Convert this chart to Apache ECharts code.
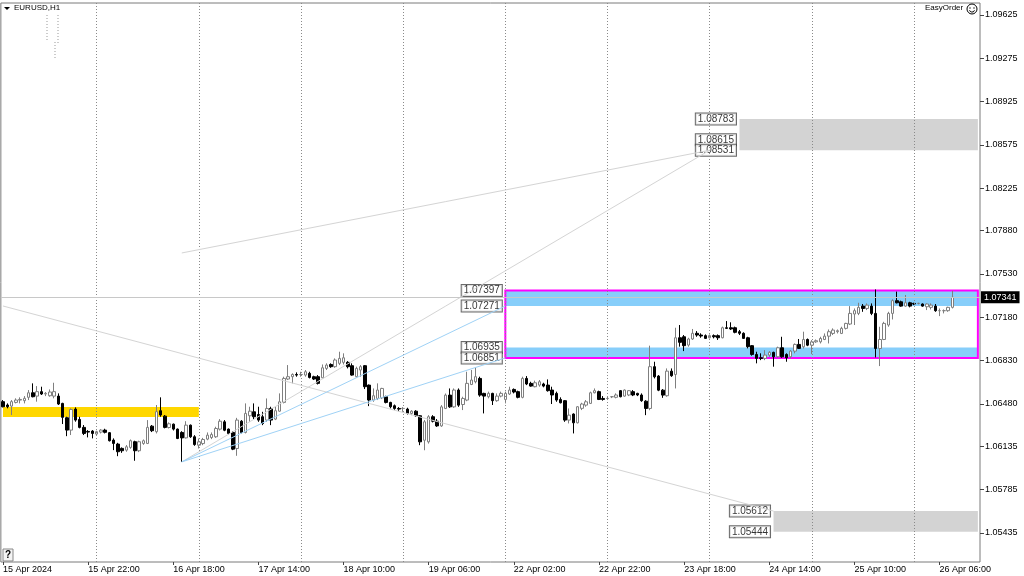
<!DOCTYPE html>
<html>
<head>
<meta charset="utf-8">
<script src="https://cdn.jsdelivr.net/npm/echarts@6/dist/echarts.min.js"></script>
<style>
html, body { margin: 0; padding: 0; background: #fff; }
#chart { width: 1024px; height: 576px; }
</style>
</head>
<body>
<div id="chart"></div>
<script>
// EURUSD H1, 15 Apr 02:00 .. 26 Apr 09:00 (224 bars)
var open = [
  1.06497,1.06470,1.06461,1.06491,1.06510,1.06505,1.06532,1.06569,1.06542,1.06578,
  1.06559,1.06545,1.06542,1.06542,1.06483,1.06367,1.06267,1.06437,1.06353,1.06289,
  1.06256,1.06259,1.06235,1.06251,1.06267,1.06246,1.06186,1.06154,1.06119,1.06105,
  1.06127,1.06173,1.06100,1.06159,1.06159,1.06299,1.06254,1.06424,1.06380,1.06288,
  1.06315,1.06275,1.06248,1.06204,1.06307,1.06213,1.06145,1.06158,1.06194,1.06207,
  1.06213,1.06275,1.06334,1.06275,1.06248,1.06118,1.06339,1.06248,1.06383,1.06415,
  1.06393,1.06375,1.06348,1.06442,1.06356,1.06420,1.06491,1.06680,1.06699,1.06717,
  1.06717,1.06712,1.06726,1.06699,1.06699,1.06690,1.06766,1.06798,1.06780,1.06807,
  1.06815,1.06815,1.06788,1.06699,1.06753,1.06788,1.06631,1.06510,1.06523,1.06528,
  1.06537,1.06491,1.06464,1.06442,1.06442,1.06437,1.06402,1.06420,1.06383,1.06185,
  1.06172,1.06375,1.06339,1.06301,1.06442,1.06550,1.06455,1.06591,1.06474,1.06510,
  1.06636,1.06658,1.06685,1.06564,1.06537,1.06564,1.06505,1.06542,1.06515,1.06559,
  1.06596,1.06578,1.06532,1.06685,1.06645,1.06618,1.06631,1.06640,1.06631,1.06591,
  1.06564,1.06515,1.06505,1.06348,1.06397,1.06326,1.06443,1.06469,1.06483,1.06569,
  1.06578,1.06523,1.06523,1.06537,1.06532,1.06586,1.06542,1.06551,1.06578,1.06564,
  1.06551,1.06501,1.06442,1.06780,1.06704,1.06590,1.06545,1.06744,1.06717,1.07014,
  1.07022,1.06955,1.07004,1.07050,1.07036,1.07031,1.07014,1.07031,1.07031,1.07014,
  1.07095,1.07095,1.07095,1.07063,1.07050,1.07014,1.06950,1.06879,1.06852,1.06847,
  1.06874,1.06896,1.06860,1.06933,1.06879,1.06860,1.06906,1.06960,1.06941,1.07000,
  1.06954,1.06981,1.06981,1.07000,1.07027,1.07049,1.07063,1.07049,1.07090,1.07125,
  1.07206,1.07211,1.07270,1.07251,1.07270,1.07211,1.06927,1.07000,1.07117,1.07211,
  1.07314,1.07305,1.07270,1.07297,1.07292,1.07292,1.07287,1.07265,1.07260,1.07270,
  1.07233,1.07233,1.07233,1.07260
];
var close = [
  1.06456,1.06456,1.06497,1.06510,1.06515,1.06524,1.06569,1.06537,1.06578,1.06559,
  1.06564,1.06575,1.06578,1.06478,1.06370,1.06267,1.06434,1.06348,1.06289,1.06240,
  1.06251,1.06240,1.06254,1.06267,1.06249,1.06181,1.06159,1.06092,1.06100,1.06132,
  1.06181,1.06100,1.06173,1.06181,1.06289,1.06262,1.06416,1.06389,1.06289,1.06318,
  1.06275,1.06199,1.06204,1.06307,1.06213,1.06150,1.06172,1.06191,1.06226,1.06231,
  1.06280,1.06339,1.06266,1.06240,1.06113,1.06348,1.06248,1.06402,1.06420,1.06375,
  1.06348,1.06320,1.06442,1.06348,1.06424,1.06496,1.06685,1.06699,1.06717,1.06712,
  1.06717,1.06739,1.06693,1.06680,1.06645,1.06771,1.06793,1.06780,1.06834,1.06847,
  1.06852,1.06780,1.06712,1.06766,1.06780,1.06618,1.06510,1.06545,1.06591,1.06604,
  1.06491,1.06456,1.06442,1.06437,1.06442,1.06402,1.06420,1.06383,1.06172,1.06334,
  1.06375,1.06339,1.06301,1.06455,1.06550,1.06455,1.06591,1.06469,1.06523,1.06645,
  1.06672,1.06699,1.06550,1.06542,1.06564,1.06505,1.06542,1.06564,1.06564,1.06591,
  1.06575,1.06532,1.06685,1.06640,1.06623,1.06650,1.06658,1.06623,1.06586,1.06551,
  1.06510,1.06488,1.06348,1.06388,1.06326,1.06456,1.06478,1.06496,1.06569,1.06586,
  1.06515,1.06515,1.06523,1.06537,1.06551,1.06537,1.06591,1.06586,1.06551,1.06551,
  1.06505,1.06442,1.06780,1.06698,1.06590,1.06550,1.06744,1.06707,1.07014,1.06977,
  1.06950,1.07004,1.07050,1.07036,1.07028,1.07009,1.07031,1.07022,1.07014,1.07095,
  1.07090,1.07085,1.07058,1.07050,1.07009,1.06942,1.06879,1.06847,1.06847,1.06874,
  1.06896,1.06860,1.06933,1.06860,1.06852,1.06906,1.06960,1.06928,1.07000,1.06954,
  1.06981,1.06990,1.07008,1.07027,1.07063,1.07076,1.07071,1.07090,1.07130,1.07211,
  1.07233,1.07260,1.07251,1.07278,1.07211,1.06927,1.07000,1.07130,1.07211,1.07314,
  1.07297,1.07270,1.07297,1.07270,1.07287,1.07292,1.07270,1.07287,1.07278,1.07233,
  1.07233,1.07233,1.07260,1.07341
];
var low = [
  1.06451,1.06443,1.06389,1.06483,1.06483,1.06483,1.06510,1.06532,1.06497,1.06551,
  1.06542,1.06537,1.06524,1.06470,1.06316,1.06218,1.06227,1.06335,1.06281,1.06227,
  1.06208,1.06200,1.06224,1.06240,1.06240,1.06175,1.06105,1.06056,1.06083,1.06092,
  1.06116,1.06019,1.06089,1.06148,1.06154,1.06251,1.06240,1.06375,1.06281,1.06280,
  1.06264,1.06194,1.06010,1.06199,1.06204,1.06140,1.06118,1.06145,1.06185,1.06194,
  1.06204,1.06264,1.06258,1.06231,1.06105,1.06059,1.06240,1.06240,1.06334,1.06356,
  1.06334,1.06307,1.06334,1.06307,1.06348,1.06415,1.06483,1.06672,1.06645,1.06699,
  1.06699,1.06699,1.06685,1.06672,1.06636,1.06685,1.06753,1.06771,1.06771,1.06793,
  1.06798,1.06766,1.06707,1.06690,1.06699,1.06599,1.06461,1.06496,1.06510,1.06518,
  1.06483,1.06442,1.06429,1.06420,1.06415,1.06393,1.06388,1.06375,1.06145,1.06104,
  1.06158,1.06329,1.06293,1.06293,1.06437,1.06447,1.06447,1.06455,1.06429,1.06501,
  1.06631,1.06645,1.06537,1.06402,1.06524,1.06470,1.06496,1.06532,1.06483,1.06551,
  1.06564,1.06524,1.06524,1.06631,1.06618,1.06613,1.06618,1.06613,1.06578,1.06478,
  1.06496,1.06483,1.06334,1.06321,1.06240,1.06321,1.06429,1.06456,1.06478,1.06564,
  1.06510,1.06505,1.06510,1.06526,1.06524,1.06532,1.06537,1.06542,1.06542,1.06542,
  1.06496,1.06388,1.06428,1.06685,1.06582,1.06528,1.06537,1.06698,1.06604,1.06942,
  1.06906,1.06942,1.06996,1.07022,1.07014,1.07004,1.07009,1.07009,1.06996,1.07009,
  1.07085,1.07077,1.07050,1.07036,1.07004,1.06928,1.06869,1.06807,1.06833,1.06833,
  1.06860,1.06780,1.06852,1.06852,1.06820,1.06847,1.06888,1.06923,1.06927,1.06946,
  1.06882,1.06973,1.06968,1.06995,1.06968,1.07036,1.07049,1.07044,1.07081,1.07117,
  1.07117,1.07197,1.07224,1.07238,1.07197,1.06855,1.06785,1.06995,1.07103,1.07162,
  1.07292,1.07265,1.07265,1.07260,1.07278,1.07284,1.07265,1.07238,1.07243,1.07224,
  1.07189,1.07211,1.07224,1.07251
];
var high = [
  1.06510,1.06483,1.06510,1.06524,1.06532,1.06542,1.06591,1.06645,1.06623,1.06618,
  1.06575,1.06596,1.06650,1.06564,1.06488,1.06375,1.06443,1.06451,1.06375,1.06308,
  1.06267,1.06267,1.06262,1.06275,1.06278,1.06251,1.06200,1.06164,1.06127,1.06146,
  1.06191,1.06181,1.06181,1.06191,1.06348,1.06308,1.06470,1.06532,1.06389,1.06329,
  1.06320,1.06280,1.06258,1.06339,1.06312,1.06226,1.06199,1.06204,1.06248,1.06248,
  1.06294,1.06356,1.06348,1.06280,1.06258,1.06366,1.06348,1.06483,1.06456,1.06483,
  1.06456,1.06415,1.06523,1.06456,1.06456,1.06564,1.06699,1.06793,1.06726,1.06734,
  1.06739,1.06753,1.06739,1.06707,1.06712,1.06798,1.06807,1.06807,1.06847,1.06901,
  1.06888,1.06825,1.06807,1.06780,1.06793,1.06793,1.06636,1.06604,1.06645,1.06609,
  1.06545,1.06496,1.06474,1.06453,1.06453,1.06448,1.06428,1.06428,1.06388,1.06348,
  1.06388,1.06388,1.06356,1.06469,1.06563,1.06604,1.06604,1.06604,1.06537,1.06739,
  1.06753,1.06771,1.06699,1.06569,1.06578,1.06569,1.06564,1.06578,1.06578,1.06618,
  1.06604,1.06586,1.06699,1.06704,1.06658,1.06667,1.06672,1.06650,1.06677,1.06618,
  1.06578,1.06532,1.06510,1.06442,1.06402,1.06461,1.06488,1.06510,1.06578,1.06604,
  1.06586,1.06542,1.06537,1.06542,1.06564,1.06591,1.06596,1.06591,1.06591,1.06569,
  1.06564,1.06509,1.06950,1.06820,1.06712,1.06599,1.06766,1.06766,1.07095,1.07117,
  1.07036,1.07014,1.07085,1.07068,1.07050,1.07041,1.07041,1.07041,1.07041,1.07104,
  1.07149,1.07139,1.07104,1.07077,1.07058,1.07022,1.06955,1.06901,1.06888,1.06914,
  1.06906,1.06901,1.06942,1.07022,1.06888,1.06914,1.06968,1.07004,1.07063,1.07008,
  1.06995,1.07000,1.07022,1.07049,1.07081,1.07090,1.07081,1.07103,1.07135,1.07270,
  1.07251,1.07297,1.07287,1.07292,1.07292,1.07405,1.07103,1.07143,1.07224,1.07325,
  1.07387,1.07314,1.07360,1.07305,1.07297,1.07297,1.07292,1.07292,1.07292,1.07287,
  1.07251,1.07243,1.07265,1.07395
];

// axis ticks
var xTickLabels = ['15 Apr 2024', '15 Apr 22:00', '16 Apr 18:00', '17 Apr 14:00', '18 Apr 10:00', '19 Apr 06:00',
                   '22 Apr 02:00', '22 Apr 22:00', '23 Apr 18:00', '24 Apr 14:00', '25 Apr 10:00', '26 Apr 06:00'];
var xTickEvery = 20;
var yTickLabels = ['1.05435', '1.05785', '1.06135', '1.06480', '1.06830', '1.07180', '1.07530',
                   '1.07880', '1.08225', '1.08575', '1.08925', '1.09275', '1.09625'];
var bidPrice = 1.07341;

// drawn objects: [bar index, price]
var blueZones = [[1.07397, 1.07271], [1.06935, 1.06851]];
var boxZone = [1.07397, 1.06851];
var grayZones = [[173, 1.08783, 1.08531], [181, 1.05612, 1.05444]];
var yellowZone = [0, 46, 1.06454, 1.06373];
var grayLines = [[[42, 1.07700], [166, 1.08531]], [[42, 1.06010], [166, 1.08531]], [[0, 1.07271], [181, 1.05612]]];
var blueLines = [[[42, 1.06010], [118, 1.07271]], [[42, 1.06010], [118, 1.06851]]];
var levelTags = [[118, 1.07397], [118, 1.07271], [118, 1.06935], [118, 1.06851],
                 [173, 1.08783], [173, 1.08615], [173, 1.08531], [181, 1.05612], [181, 1.05444]];

// hourly bar times, weekend skipped
var months = ['Jan','Feb','Mar','Apr','May','Jun','Jul','Aug','Sep','Oct','Nov','Dec'];
var barTimes = [];
var dayStarts = [];
var t = Date.UTC(2024, 3, 15, 2);
while (barTimes.length < open.length) {
  var d = new Date(t);
  var wd = d.getUTCDay();
  if (wd !== 0 && wd !== 6) {
    if (d.getUTCHours() === 0) dayStarts.push(barTimes.length);
    barTimes.push(d.getUTCDate() + ' ' + months[d.getUTCMonth()] + ' ' + ('0' + d.getUTCHours()).slice(-2) + ':00');
  }
  t += 3600000;
}
var cats = barTimes.slice();
for (var k = 0; k < 6; k++) cats.push('');  // chart shift
var lastCat = cats.length - 1;

var candles = open.map(function (o, i) { return [o, close[i], low[i], high[i]]; });

var FONT = 'Liberation Sans';
var chart = echarts.init(document.getElementById('chart'));

var areaData = [];
blueZones.forEach(function (z) {
  areaData.push([{ xAxis: 118, yAxis: z[0], itemStyle: { color: '#87cefa' } }, { xAxis: lastCat, yAxis: z[1] }]);
});
grayZones.forEach(function (z) {
  areaData.push([{ xAxis: z[0], yAxis: z[1], itemStyle: { color: '#d3d3d3' } }, { xAxis: lastCat, yAxis: z[2] }]);
});
areaData.push([{ xAxis: yellowZone[0], yAxis: yellowZone[2], itemStyle: { color: '#ffd700' } }, { xAxis: yellowZone[1], yAxis: yellowZone[3] }]);
areaData.push([{ xAxis: 118, yAxis: boxZone[0], itemStyle: { color: 'rgba(0,0,0,0)', borderColor: '#ff00ff', borderWidth: 2 } },
               { xAxis: lastCat, yAxis: boxZone[1] }]);

var lineData = [];
dayStarts.forEach(function (i) {
  lineData.push({ xAxis: i, lineStyle: { color: '#8a8a8a', type: [1, 2], width: 1 } });
});
grayLines.forEach(function (l) {
  lineData.push([{ coord: l[0], lineStyle: { color: '#d4d4d4', type: 'solid', width: 1 } }, { coord: l[1] }]);
});
blueLines.forEach(function (l) {
  lineData.push([{ coord: l[0], lineStyle: { color: '#9fd2f6', type: 'solid', width: 1 } }, { coord: l[1] }]);
});

var option = {
  animation: false,
  backgroundColor: '#ffffff',
  grid: { left: 0, right: 44, top: 3, bottom: 14, show: true, borderColor: '#7a7a7a', borderWidth: 1, backgroundColor: '#fff' },
  xAxis: {
    type: 'category',
    data: cats,
    boundaryGap: true,
    axisLine: { show: false },
    axisTick: { show: true, length: 3, alignWithLabel: true, lineStyle: { color: '#444' },
                interval: function (i) { return i % xTickEvery === 0 && i / xTickEvery < xTickLabels.length; } },
    axisLabel: {
      interval: function (i) { return i % xTickEvery === 0 && i / xTickEvery < xTickLabels.length; },
      formatter: function (v, i) { return xTickLabels[i / xTickEvery]; },
      align: 'left', margin: 3, fontSize: 9, color: '#000', fontFamily: FONT
    },
    splitLine: { show: false }
  },
  yAxis: {
    type: 'value',
    position: 'right',
    min: 1.05200,
    max: 1.09722,
    axisLine: { show: false },
    axisTick: { show: true, length: 4, lineStyle: { color: '#444' }, customValues: yTickLabels.map(Number) },
    axisLabel: { customValues: yTickLabels.map(Number), formatter: function (v) { return v.toFixed(5); },
                 margin: 5, fontSize: 9, color: '#000', fontFamily: FONT },
    splitLine: { show: false }
  },
  series: [
    {
      type: 'candlestick',
      data: candles,
      barWidth: 3,
      itemStyle: { color: '#ffffff', borderColor: '#7f7f7f', color0: '#000000', borderColor0: '#000000', borderWidth: 1 },
      markArea: { silent: true, data: areaData },
      markLine: { silent: true, precision: 5, symbol: ['none', 'none'], label: { show: false }, data: lineData }
    },
    {
      type: 'scatter',
      data: levelTags,
      symbolSize: 1,
      itemStyle: { color: 'rgba(0,0,0,0)' },
      silent: true,
      label: {
        show: true, position: 'left', distance: 3,
        formatter: function (p) { return p.value[1].toFixed(5); },
        backgroundColor: '#fff', borderColor: '#444', borderWidth: 1, padding: [1, 2, 0, 2],
        fontSize: 10, color: '#000', fontFamily: FONT
      },
      markLine: {
        silent: true, precision: 5, symbol: ['none', 'none'],
        data: [{ yAxis: bidPrice, lineStyle: { color: '#c8c8c8', type: 'solid', width: 1 } }],
        label: { show: true, position: 'end', distance: 1, formatter: bidPrice.toFixed(5), color: '#fff',
                 backgroundColor: '#000', padding: [2, 3, 1, 3], fontSize: 9, fontFamily: FONT }
      }
    }
  ],
  graphic: [
    { type: 'polygon', shape: { points: [[4, 7], [10, 7], [7, 10]] }, style: { fill: '#000' } },
    { type: 'text', left: 14, top: 4, style: { text: 'EURUSD,H1', fontSize: 8, fill: '#000', fontFamily: FONT } },
    { type: 'text', left: 925, top: 4, style: { text: 'EasyOrder', fontSize: 8, fill: '#000', fontFamily: FONT } },
    { type: 'circle', shape: { cx: 972, cy: 9, r: 5 }, style: { fill: 'none', stroke: '#000', lineWidth: 1 } },
    { type: 'circle', shape: { cx: 970, cy: 8, r: 0.7 }, style: { fill: '#000' } },
    { type: 'circle', shape: { cx: 974, cy: 8, r: 0.7 }, style: { fill: '#000' } },
    { type: 'arc', shape: { cx: 972, cy: 9.5, r: 2.6, startAngle: 0.3, endAngle: Math.PI - 0.3 }, style: { fill: 'none', stroke: '#000', lineWidth: 1 } },
    { type: 'line', shape: { x1: 47, y1: 15, x2: 47, y2: 42 }, style: { stroke: '#999', lineDash: [1, 2] } },
    { type: 'line', shape: { x1: 58, y1: 15, x2: 58, y2: 45 }, style: { stroke: '#999', lineDash: [1, 2] } },
    { type: 'line', shape: { x1: 55, y1: 42, x2: 55, y2: 58 }, style: { stroke: '#999', lineDash: [1, 2] } },
    { type: 'rect', shape: { x: 3, y: 549, width: 10, height: 12 }, style: { fill: '#f4f4f4', stroke: '#888' } },
    { type: 'text', left: 5, top: 550, style: { text: '?', fontSize: 10, fontWeight: 'bold', fill: '#000', fontFamily: FONT } }
  ]
};
chart.setOption(option);
</script>
</body>
</html>
